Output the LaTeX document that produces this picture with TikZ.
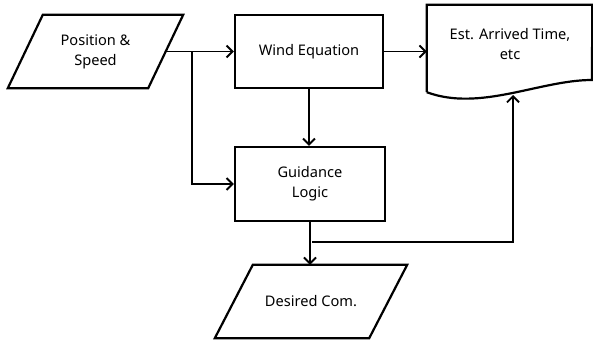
\documentclass[tikz,border=0pt]{standalone}
\usepackage{fontspec}
\setmainfont{Noto Sans}
\usetikzlibrary{arrows.meta,calc}

\begin{document}
\begin{tikzpicture}[x=1pt, y=-1pt,
  box/.style={draw, line width=2.2pt, inner sep=0pt, align=center},
  txt/.style={inner sep=0pt, align=center},
  arr/.style={line width=1.9pt, -{Straight Barb[length=6pt, width=12pt]}},
  font=\fontsize{14.6}{20}\selectfont]
  \useasboundingbox (0,0) rectangle (593,344);
  % slanted boxes: text node, outline drawn round it
  \node[txt, minimum width=140pt, minimum height=73pt] (pos) at (95.5,51.5) {Position \&\\Speed};
  \draw[line width=2.2pt] ($(pos.north west)+(17.5,0)$) -- ($(pos.north east)+(17.5,0)$)
    -- ($(pos.south east)+(-17.5,0)$) -- ($(pos.south west)+(-17.5,0)$) -- cycle;
  \node[box, minimum width=148pt, minimum height=73pt] (wind) at (309,51.5) {Wind Equation};
  \node[box, minimum width=150pt, minimum height=74pt] (guid) at (310,184) {Guidance\\Logic};
  \node[txt, minimum width=154pt, minimum height=73pt] (des) at (311,301.5) {Desired Com.};
  \draw[line width=2.2pt] ($(des.north west)+(19,0)$) -- ($(des.north east)+(19,0)$)
    -- ($(des.south east)+(-19,0)$) -- ($(des.south west)+(-19,0)$) -- cycle;
  % document shape
  \node[inner sep=0pt, minimum width=165pt, minimum height=87pt] (est) at (509.5,48.5) {};
  \node[txt] at (510,44) {Est. Arrived Time,\\etc};
  \draw[line width=2.2pt] (est.south west) -- (est.north west) -- (est.north east) -- (592,80)
    .. controls (540,80) and (480,112) .. (est.south west);
  \coordinate (split1) at (192,51.5);
  \coordinate (split2) at (312,242);
  \coordinate (tip) at (513,95);
  \draw[arr] (pos.east) -- (wind.west);
  \draw[arr] (split1) |- (guid.west);
  \draw[arr] (wind.east) -- (wind.east -| est.west);
  \draw[arr] (wind.south) -- (wind.south |- guid.north);
  \draw[arr] (guid.south) -- (guid.south |- des.north);
  \draw[arr] (split2) -| (tip);
\end{tikzpicture}
\end{document}
